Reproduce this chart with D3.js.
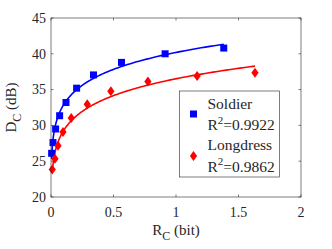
<!DOCTYPE html>
<html>
<head>
<meta charset="utf-8">
<script src="https://cdn.jsdelivr.net/npm/d3@7"></script>
<style>
  body { margin: 0; background: #fff; }
</style>
</head>
<body>
<svg id="chart" width="332" height="249" font-family="'Liberation Serif', 'Times New Roman', Times, serif"></svg>
<script>
// data
var soldierR = [0.005, 0.016, 0.037, 0.069, 0.12, 0.205, 0.34, 0.564, 0.913, 1.382];
var soldierD = [26.1, 27.6, 29.5, 31.35, 33.2, 35.2, 37.05, 38.8, 40.0, 40.8];
var longdressR = [0.01, 0.032, 0.056, 0.096, 0.162, 0.29, 0.479, 0.775, 1.169, 1.632];
var longdressD = [23.84, 25.33, 27.15, 29.07, 31.03, 32.95, 34.77, 36.12, 36.9, 37.35];
var xTicks = [0, 0.5, 1, 1.5, 2];
var yTicks = [20, 25, 30, 35, 40, 45];
var seriesNames = ['Soldier', 'Longdress'];
var r2Labels = ['0.9922', '0.9862'];

var margin = { top: 18, right: 31, bottom: 52, left: 51 },
  width = 332 - margin.left - margin.right,
  height = 249 - margin.top - margin.bottom;

var svg = d3.select('#chart');
var g = svg.append('g').attr("transform", "translate(" + margin.left + "," + margin.top + ")");

var x = d3.scaleLinear().domain([0, 2]).range([0, width]);
var y = d3.scaleLinear().domain([20, 45]).range([height, 0]);
var axisColor = "#262626";

// power fit D = a * R^b : start from log-log fit, refine with Gauss-Newton
function powerFit(rs, ds) {
  var n = rs.length, sx = 0, sy = 0, sxx = 0, sxy = 0;
  for (var i = 0; i < n; i++) {
    var lx = Math.log(rs[i]), ly = Math.log(ds[i]);
    sx += lx; sy += ly; sxx += lx * lx; sxy += lx * ly;
  }
  var b = (n * sxy - sx * sy) / (n * sxx - sx * sx);
  var a = Math.exp((sy - b * sx) / n);
  for (var it = 0; it < 30; it++) {
    var jaa = 0, jab = 0, jbb = 0, ga = 0, gb = 0;
    for (var k = 0; k < n; k++) {
      var p = Math.pow(rs[k], b), f = a * p, res = ds[k] - f;
      var da = p, db = f * Math.log(rs[k]);
      jaa += da * da; jab += da * db; jbb += db * db;
      ga += da * res; gb += db * res;
    }
    var det = jaa * jbb - jab * jab;
    a += (jbb * ga - jab * gb) / det;
    b += (jaa * gb - jab * ga) / det;
  }
  return function (r) { return a * Math.pow(r, b); };
}

function fitCurve(rs, ds) {
  var f = powerFit(rs, ds);
  var lo = d3.min(rs), hi = d3.max(rs);
  return d3.range(0, 201).map(function (i) {
    var r = Math.exp(Math.log(lo) + (Math.log(hi) - Math.log(lo)) * i / 200);
    return [r, f(r)];
  });
}

var line = d3.line().x(d => x(d[0])).y(d => y(d[1]));

g.append("path").datum(fitCurve(soldierR, soldierD))
  .attr("d", line).attr("fill", "none").attr("stroke", "#0000ff").attr("stroke-width", 1.6);
g.append("path").datum(fitCurve(longdressR, longdressD))
  .attr("d", line).attr("fill", "none").attr("stroke", "#ff0000").attr("stroke-width", 1.6);

var sq = 7;
g.selectAll(".sq")
  .data(soldierR.map((r, i) => [r, soldierD[i]]))
  .enter().append("rect")
  .attr("x", d => x(d[0]) - sq / 2)
  .attr("y", d => y(d[1]) - sq / 2)
  .attr("width", sq).attr("height", sq)
  .attr("fill", "#0000ff");

var diamond = "M0,-5L3.6,0L0,5L-3.6,0Z";
g.selectAll(".dm")
  .data(longdressR.map((r, i) => [r, longdressD[i]]))
  .enter().append("path")
  .attr("d", diamond)
  .attr("transform", d => "translate(" + x(d[0]) + "," + y(d[1]) + ")")
  .attr("fill", "#ff0000");

// axes box with inward ticks
var tl = 2.5;
g.append("rect").attr("x", 0).attr("y", 0).attr("width", width).attr("height", height)
  .attr("fill", "none").attr("stroke", axisColor).attr("stroke-width", 0.6);

xTicks.forEach(function (t) {
  g.append("line").attr("x1", x(t)).attr("x2", x(t)).attr("y1", height).attr("y2", height - tl)
    .attr("stroke", axisColor).attr("stroke-width", 0.6);
  g.append("line").attr("x1", x(t)).attr("x2", x(t)).attr("y1", 0).attr("y2", tl)
    .attr("stroke", axisColor).attr("stroke-width", 0.6);
  g.append("text").attr("x", x(t)).attr("y", height + 19.5).attr("text-anchor", "middle")
    .attr("fill", axisColor).style("font-size", "14px").text(t);
});
yTicks.forEach(function (t) {
  g.append("line").attr("x1", 0).attr("x2", tl).attr("y1", y(t)).attr("y2", y(t))
    .attr("stroke", axisColor).attr("stroke-width", 0.6);
  g.append("line").attr("x1", width).attr("x2", width - tl).attr("y1", y(t)).attr("y2", y(t))
    .attr("stroke", axisColor).attr("stroke-width", 0.6);
  g.append("text").attr("x", -5).attr("y", y(t) + 4.8).attr("text-anchor", "end")
    .attr("fill", axisColor).style("font-size", "14px").text(t);
});

// axis labels
var xl = g.append("text").attr("x", width / 2).attr("y", height + 37.5).attr("text-anchor", "middle")
  .attr("fill", axisColor).style("font-size", "15px");
xl.append("tspan").text("R");
xl.append("tspan").attr("dy", 5).style("font-size", "12px").text("C");
xl.append("tspan").attr("dy", -5).text(" (bit)");

var yl = g.append("text").attr("transform", "translate(-35," + (height / 2) + ") rotate(-90)")
  .attr("text-anchor", "middle").attr("fill", axisColor).style("font-size", "15px");
yl.append("tspan").text("D");
yl.append("tspan").attr("dy", 5).style("font-size", "12px").text("C");
yl.append("tspan").attr("dy", -5).text(" (dB)");

// legend
var leg = svg.append("g").attr("transform", "translate(179.5,91)");
leg.append("rect").attr("width", 100).attr("height", 86)
  .attr("fill", "#fff").attr("stroke", axisColor).attr("stroke-width", 0.6);
leg.append("rect").attr("x", 14 - sq / 2).attr("y", 23 - sq / 2).attr("width", sq).attr("height", sq)
  .attr("fill", "#0000ff");
leg.append("path").attr("d", diamond).attr("transform", "translate(14,65)").attr("fill", "#ff0000");

seriesNames.forEach(function (name, i) {
  var base = 17.5 + i * 41.5;
  leg.append("text").attr("x", 28).attr("y", base).attr("fill", axisColor)
    .style("font-size", "15.5px").text(name);
  var t = leg.append("text").attr("x", 28).attr("y", base + 21.5).attr("fill", axisColor)
    .style("font-size", "15.5px");
  t.append("tspan").text("R");
  t.append("tspan").attr("dy", -6.5).style("font-size", "11px").text("2");
  t.append("tspan").attr("dy", 6.5).text("=" + r2Labels[i]);
});
</script>
</body>
</html>
